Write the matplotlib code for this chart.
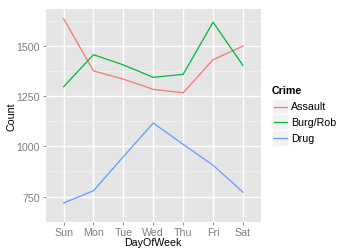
import matplotlib
matplotlib.use("Agg")
import matplotlib.pyplot as plt
from matplotlib.lines import Line2D
from matplotlib.patches import Rectangle

days = ["Sun", "Mon", "Tue", "Wed", "Thu", "Fri", "Sat"]
assault = [1636, 1376, 1335, 1284, 1267, 1432, 1500]
burg_rob = [1297, 1457, 1406, 1344, 1359, 1619, 1403]
drug = [718, 779, 949, 1116, 1010, 906, 772]
series_names = ["Assault", "Burg/Rob", "Drug"]
colors = ["#F8766D", "#00BA38", "#619CFF"]
yticks = [750, 1000, 1250, 1500]

plt.rcParams['font.family'] = ['Liberation Sans', 'DejaVu Sans']
fig = plt.figure(figsize=(3.54, 2.53), dpi=100)
fig.patch.set_facecolor("white")
ax = fig.add_axes([0.129, 0.120, 0.608, 0.840])
ax.set_facecolor("#E5E5E5")

x = list(range(len(days)))
for vals, c in zip([assault, burg_rob, drug], colors):
    ax.plot(x, vals, color=c, lw=0.9, zorder=3)

ax.set_xlim(-0.6, 6.6)
ax.set_ylim(670, 1684)
ax.set_xticks(x)
ax.set_xticklabels(days)
ax.set_yticks(yticks)
ax.set_yticks([625, 875, 1125, 1375, 1625], minor=True)
ax.grid(which="major", color="white", lw=1.0, zorder=1)
ax.grid(which="minor", axis="y", color="#F2F2F2", lw=0.5, zorder=1)
ax.set_axisbelow(True)
for s in ax.spines.values():
    s.set_visible(False)
ax.tick_params(which="major", length=2.5, width=0.6, color="#7F7F7F",
               labelcolor="#7F7F7F", labelsize=7.7, pad=1.5)
ax.tick_params(which="minor", length=0)
ax.set_xlabel("DayOfWeek", fontsize=7.7, labelpad=0)
ax.set_ylabel("Count", fontsize=7.7)
ax.yaxis.set_label_coords(-0.135, 0.5)

# legend
fig.text(272/354, 1 - 91/253, "Crime", fontsize=7.7, fontweight="bold",
         ha="left", va="center")
for i, (name, c) in enumerate(zip(series_names, colors)):
    yc = 1 - (107.5 + i * 15.7) / 253
    x0 = 272 / 354
    w = 16 / 354
    h = 15.7 / 253
    fig.patches.append(Rectangle((x0, yc - h / 2), w, h, transform=fig.transFigure,
                                 facecolor="#F2F2F2", edgecolor="white", lw=0.5))
    fig.lines.append(Line2D([x0 + 1.5 / 354, x0 + w - 1.5 / 354], [yc, yc],
                            transform=fig.transFigure, color=c, lw=0.9))
    fig.text(x0 + w + 3 / 354, yc, name, fontsize=7.7, ha="left", va="center")

fig.savefig("out.png", dpi=100)
